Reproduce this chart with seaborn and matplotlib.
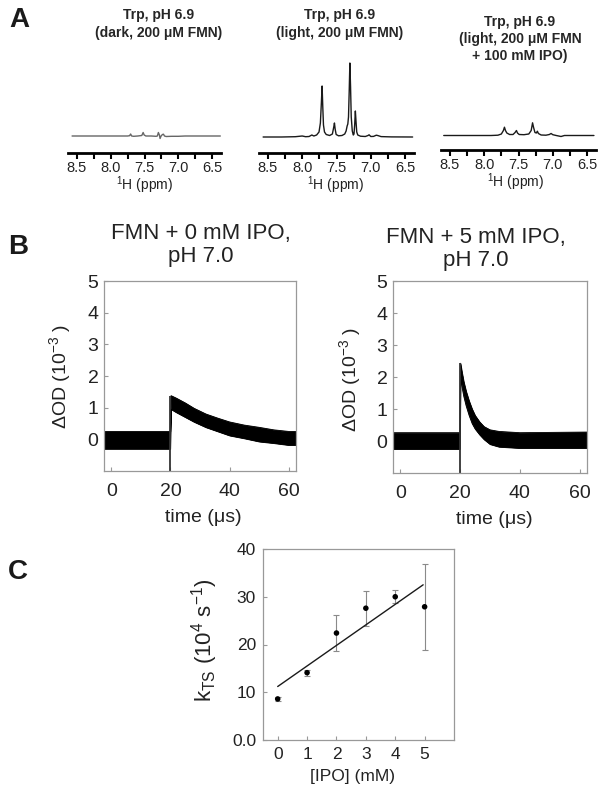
import seaborn as sns
import matplotlib.pyplot as plt

# ---------------- data ----------------
# A: 1H NMR spectra (intensity, arbitrary units, baseline = 0)
dark_ppm = [8.57, 7.75, 7.72, 7.705, 7.69, 7.66, 7.60, 7.54, 7.52, 7.505, 7.48,
            7.40, 7.33, 7.31, 7.295, 7.28, 7.27, 7.255, 7.235, 7.22, 7.205, 7.18,
            7.10, 7.00, 6.90, 6.38]
dark_int = [0, 0, 0.3, 2.0, 0, -0.3, 0, 0.5, 3.5, 1.0, 0,
            0, -0.3, 0, 3.5, 1.0, -2.5, 0, 1.5, 1.8, 0, -0.5,
            -0.3, -0.3, 0, 0]

light_ppm = [8.57, 8.30, 8.10, 8.00, 7.95, 7.90, 7.86, 7.83, 7.79, 7.755, 7.735,
             7.72, 7.71, 7.70, 7.69, 7.675, 7.65, 7.60, 7.56, 7.54, 7.53, 7.52,
             7.505, 7.47, 7.42, 7.38, 7.36, 7.345, 7.335, 7.325, 7.315, 7.305,
             7.295, 7.285, 7.27, 7.255, 7.245, 7.235, 7.225, 7.215, 7.205, 7.19,
             7.15, 7.08, 7.04, 7.025, 7.00, 6.96, 6.92, 6.90, 6.85, 6.70, 6.39]
light_int = [0, 0, 0.3, 1.0, 0.3, 0.5, 2.0, 1.0, 2.0, 5, 14,
             35, 51, 30, 12, 5, 2.5, 1.5, 3, 10, 14, 8,
             2.5, 1.2, 1.5, 3, 6, 11, 13, 20, 45, 74,
             50, 20, 6, 2, 3, 12, 26, 15, 5, 2,
             0.8, 0.5, 1.5, 2.2, 0.5, 0.6, 1.8, 1.5, 0.4, 0.1, 0]

ipo_ppm = [8.59, 8.20, 7.90, 7.80, 7.75, 7.72, 7.705, 7.69, 7.67, 7.63, 7.58,
           7.55, 7.53, 7.515, 7.49, 7.42, 7.35, 7.315, 7.295, 7.28, 7.26, 7.24,
           7.225, 7.21, 7.17, 7.10, 7.05, 7.025, 7.00, 6.95, 6.88, 6.83, 6.40]
ipo_int = [0, 0, 0, 0.3, 1.5, 5, 8.3, 5, 2.5, 1, 1,
           3, 5, 2.5, 1, 0.8, 1.5, 5, 12.7, 8, 3, 2.5,
           4.3, 2, 0.5, 0.3, 1, 2, 0.8, 0, -1, 0, 0]

# B: transient absorption traces, noise band (upper / lower envelope), 1e-3 OD
t0_time = [-2.5, 19.9, 20.2, 22, 25, 28, 32, 36, 40, 45, 50, 55, 60, 62.5]
t0_upper = [0.25, 0.25, 1.38, 1.30, 1.15, 0.98, 0.80, 0.67, 0.55, 0.45, 0.38, 0.30, 0.25, 0.25]
t0_lower = [-0.30, -0.30, 0.95, 0.85, 0.70, 0.55, 0.38, 0.25, 0.12, 0.03, -0.07, -0.12, -0.18, -0.18]

t5_time = [-2.5, 19.9, 20.1, 20.6, 21.2, 22, 23, 24, 25, 26.5, 28, 30, 33, 40, 62.5]
t5_upper = [0.26, 0.26, 2.43, 2.15, 1.85, 1.55, 1.25, 1.00, 0.80, 0.60, 0.45, 0.35, 0.30, 0.26, 0.28]
t5_lower = [-0.25, -0.25, 2.00, 1.70, 1.40, 1.10, 0.80, 0.55, 0.38, 0.20, 0.05, -0.10, -0.18, -0.22, -0.22]
pulse_time = 20

# C: rate constant vs [IPO]
ipo_mM = [0, 1, 2, 3, 4, 5]
kts = [8.6, 14.1, 22.4, 27.6, 30.0, 27.9]
kts_err = [0.4, 0.6, 3.8, 3.7, 1.4, 9.0]
fit_x = [0, 4.95]
fit_y = [11.2, 32.5]

# ---------------- style ----------------
sns.set_theme(style="white")
plt.rcParams['font.family'] = ['Liberation Sans', 'DejaVu Sans']
plt.rcParams['mathtext.fontset'] = 'custom'
plt.rcParams['mathtext.rm'] = 'Liberation Sans'
plt.rcParams['mathtext.it'] = 'Liberation Sans:italic'
plt.rcParams['mathtext.bf'] = 'Liberation Sans:bold'
plt.rcParams['mathtext.default'] = 'regular'

W, H = 604, 791
fig = plt.figure(figsize=(W / 100, H / 100), dpi=100)


def box(left, top, right, bottom):
    return fig.add_axes([left / W, 1 - bottom / H, (right - left) / W, (bottom - top) / H])


def label(x, y, s, **kw):
    fig.text(x / W, 1 - y / H, s, ha='center', va='center', **kw)


# ---------------- A: spectra ----------------
spectra = [
    (dark_ppm, dark_int, '#666666', (68, 221, 153), 17),
    (light_ppm, light_int, '#1a1a1a', (259, 414, 153), 16),
    (ipo_ppm, ipo_int, '#1a1a1a', (441, 596, 149.5), 14),
]
for ppm, inten, col, (l, r, b), gap in spectra:
    ax = box(l, b - 96, r, b)
    sns.lineplot(x=ppm, y=inten, ax=ax, color=col, lw=1.0, estimator=None, sort=False)
    ax.set_xlim(8.63, 6.37)
    ax.set_ylim(-gap, 96 - gap)
    for s in ['left', 'right', 'top']:
        ax.spines[s].set_visible(False)
    ax.spines['bottom'].set_color('black')
    ax.spines['bottom'].set_linewidth(2)
    ax.set_yticks([])
    ax.set_xticks([8.5, 8.0, 7.5, 7.0, 6.5])
    ax.set_xticklabels(['8.5', '8.0', '7.5', '7.0', '6.5'])
    ax.set_xticks([8.25, 7.75, 7.25, 6.75], minor=True)
    ax.tick_params(axis='x', which='both', direction='out', length=4, width=1.5,
                   color='black', bottom=True, labelsize=10.5, pad=2, labelcolor='#222222')
    ax.set_facecolor('none')

label(159, 24, 'Trp, pH 6.9\n(dark, 200 μM FMN)', fontsize=10, fontweight='bold', linespacing=1.3)
label(340, 24, 'Trp, pH 6.9\n(light, 200 μM FMN)', fontsize=10, fontweight='bold', linespacing=1.3)
label(520, 39, 'Trp, pH 6.9\n(light, 200 μM FMN\n+ 100 mM IPO)', fontsize=10,
      fontweight='bold', linespacing=1.3)
label(145, 185, r'$^1$H (ppm)', fontsize=10, color='#222222')
label(336, 185, r'$^1$H (ppm)', fontsize=10, color='#222222')
label(516, 182, r'$^1$H (ppm)', fontsize=10, color='#222222')

# ---------------- B: kinetic traces ----------------
traces = [
    (t0_time, t0_upper, t0_lower, (104, 281, 296, 471), 9),
    (t5_time, t5_upper, t5_lower, (393, 281, 587, 473), 10),
]
for t, up, lo, (l, tp, r, b), xpad in traces:
    ax = box(l, tp, r, b)
    ax.fill_between(t, lo, up, color='black', lw=0.6)
    sns.lineplot(x=t, y=up, ax=ax, color='black', lw=0.6, estimator=None, sort=False)
    sns.lineplot(x=t, y=lo, ax=ax, color='black', lw=0.6, estimator=None, sort=False)
    ax.vlines(pulse_time, -1, max(up), color='#333333', lw=1.3)
    ax.set_xlim(-2.5, 62.5)
    ax.set_ylim(-1, 5)
    ax.set_xticks([0, 20, 40, 60])
    ax.set_yticks([0, 1, 2, 3, 4, 5])
    for s in ax.spines.values():
        s.set_color('#999999')
        s.set_linewidth(0.9)
    ax.tick_params(direction='in', length=3, width=0.8, color='#999999',
                   labelsize=14, labelcolor='#222222', bottom=True, left=True)
    ax.tick_params(axis='x', pad=9)
    ax.tick_params(axis='y', pad=4)

label(201, 245, 'FMN + 0 mM IPO,\npH 7.0', fontsize=16, linespacing=1.15, color='#222222')
label(476, 249, 'FMN + 5 mM IPO,\npH 7.0', fontsize=16, linespacing=1.15, color='#222222')
label(203, 517, 'time (μs)', fontsize=14, color='#222222')
label(494, 520, 'time (μs)', fontsize=14, color='#222222')
label(60, 377, r'ΔOD (10$^{-3}$ )', fontsize=14, rotation=90, color='#222222')
label(350, 380, r'ΔOD (10$^{-3}$ )', fontsize=14, rotation=90, color='#222222')

# ---------------- C: rate vs [IPO] ----------------
ax = box(263, 549, 454, 740)
ax.errorbar(ipo_mM, kts, yerr=kts_err, fmt='none', ecolor='#8a8a8a',
            elinewidth=0.8, capsize=2, capthick=0.8)
sns.lineplot(x=fit_x, y=fit_y, ax=ax, color='#1a1a1a', lw=1.0, estimator=None)
sns.scatterplot(x=ipo_mM, y=kts, ax=ax, color='black', s=16, edgecolor='none', zorder=3)
ax.set_xlim(-0.5, 6)
ax.set_ylim(0, 40)
ax.set_xticks(ipo_mM)
ax.set_yticks([0, 10, 20, 30, 40])
ax.set_yticklabels(['0.0', '10', '20', '30', '40'])
for s in ax.spines.values():
    s.set_color('#999999')
    s.set_linewidth(0.9)
ax.tick_params(direction='in', length=3, width=0.8, color='#999999',
               labelsize=12.5, labelcolor='#222222', bottom=True, left=True)
ax.tick_params(axis='x', pad=5)
ax.tick_params(axis='y', pad=5)
label(353, 777, '[IPO] (mM)', fontsize=12.5, color='#222222')
label(205, 640, r'k$_{TS}$ (10$^{4}$ s$^{-1}$)', fontsize=16, rotation=90, color='#222222')

# panel letters
label(19, 20, 'A', fontsize=20, fontweight='bold', color='#1a1a1a')
label(18, 247, 'B', fontsize=20, fontweight='bold', color='#1a1a1a')
label(18, 572, 'C', fontsize=20, fontweight='bold', color='#1a1a1a')

fig.savefig('out.png', dpi=100)
